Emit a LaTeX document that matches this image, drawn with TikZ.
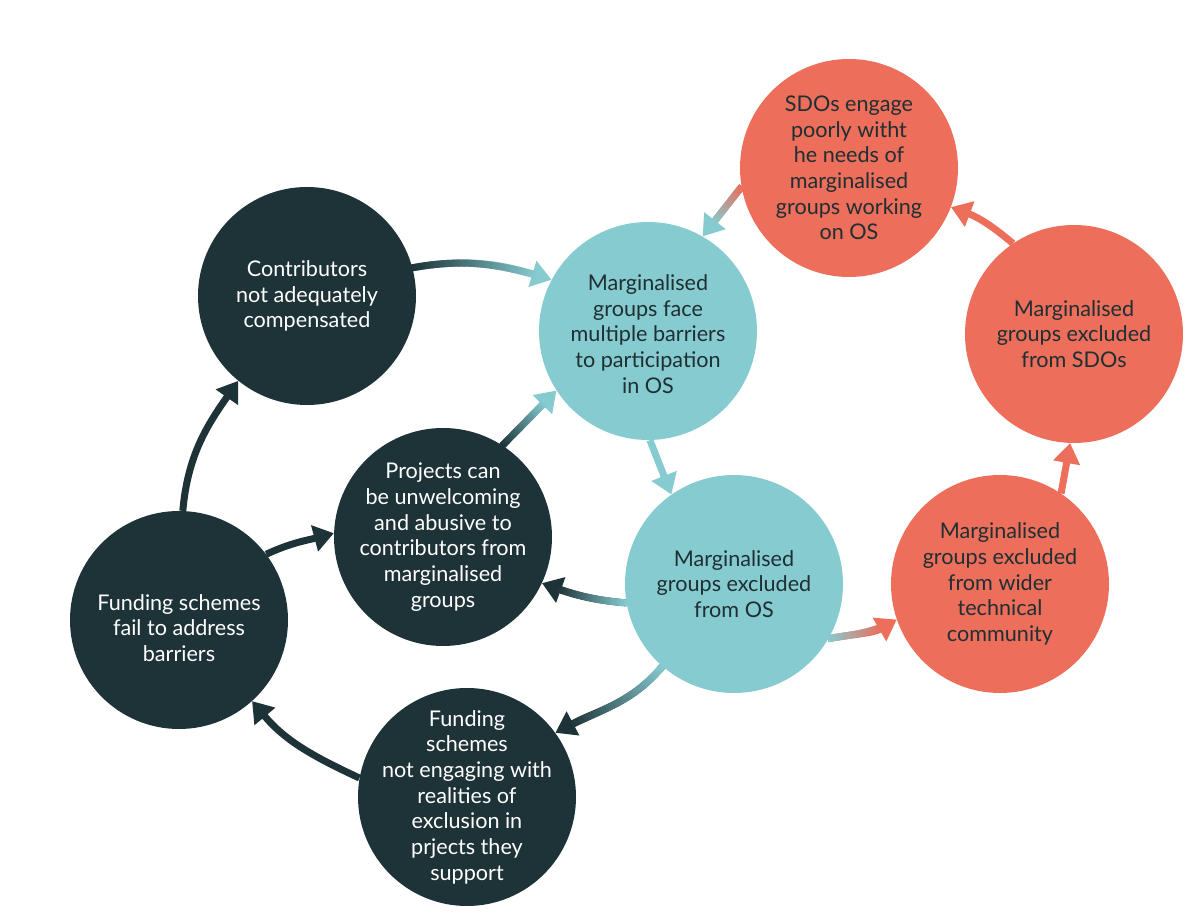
\documentclass[tikz,border=0pt]{standalone}
\usepackage{fontspec}
\setmainfont{Lato}
\usetikzlibrary{arrows.meta,decorations.markings,backgrounds}
\definecolor{dkc}{HTML}{1E3338}
\definecolor{tlc}{HTML}{86CBD0}
\definecolor{crc}{HTML}{EC6E5B}
\definecolor{txd}{HTML}{1F2F33}
\tikzset{
  bubble/.style={circle, minimum size=218pt, inner sep=0pt},
  darkb/.style={bubble, fill=dkc},
  tealb/.style={bubble, fill=tlc},
  coralb/.style={bubble, fill=crc},
  lbl/.style={align=center, font=\fontsize{21.6}{25.7}\selectfont, inner sep=0pt},
  lightlbl/.style={lbl, text=white},
  darklbl/.style={lbl, text=txd},
  arr/.style={line width=7pt, -{Triangle[length=20pt,width=26pt]}},
  gradline/.style 2 args={
    postaction={decorate, decoration={markings,
      mark=between positions 0 and -17pt step 1.2pt with {%
        \pgfmathtruncatemacro\gp{min(100,max(0,100*(\pgfkeysvalueof{/pgf/decoration/mark info/distance from start})/(\pgfdecoratedpathlength-17pt)))}%
        \fill[#2!\gp!#1, arrows=-] (-0.9pt,-3.5pt) rectangle (0.9pt,3.5pt);
      }}}
  },
}
\begin{document}
\begin{tikzpicture}[x=1pt,y=1pt]
\useasboundingbox (0,0) rectangle (1200,921);
% bubbles
\node[darkb]  (C1) at (307,625) {};
\node[tealb]  (T1) at (648,590) {};
\node[coralb] (R1) at (849,753) {};
\node[coralb] (R2) at (1074,587) {};
\node[darkb]  (D2) at (443,384) {};
\node[tealb]  (T2) at (734,337) {};
\node[coralb] (R3) at (1000,337) {};
\node[darkb]  (D3) at (179,301) {};
\node[darkb]  (D4) at (467,124) {};
% texts
\node[lightlbl] (C1t) at (C1) {Contributors\\not adequately\\compensated};
\node[darklbl] (T1t) at (648,587) {Marginalised\\groups face\\multiple barriers\\to participation\\in OS};
\node[darklbl] (R1t) at (R1) {SDOs engage\\poorly witht\\he needs of\\marginalised\\groups working\\on OS};
\node[darklbl] (R2t) at (R2) {Marginalised\\groups excluded\\from SDOs};
\node[lightlbl] (D2t) at (D2) {Projects can\\be unwelcoming\\and abusive to\\contributors from\\marginalised\\groups};
\node[darklbl] (T2t) at (T2) {Marginalised\\groups excluded\\from OS};
\node[darklbl] (R3t) at (R3) {Marginalised\\groups excluded\\from wider\\technical\\community};
\node[lightlbl] (D3t) at (179,293) {Funding schemes\\fail to address\\barriers};
\node[lightlbl] (D4t) at (D4) {Funding\\schemes\\not engaging with\\realities of\\exclusion in\\prjects they\\support};
% connectors
\begin{scope}[on background layer]
\fill[white] (0,0) rectangle (1200,921);
\draw[arr, tlc, gradline={dkc}{tlc}] (C1.15) to[out=10,in=163] (T1.152);
\draw[arr, tlc, gradline={crc}{tlc}] (R1.190) -- (T1.60);
\draw[arr, tlc] (T1.271) -- (T2.125);
\draw[arr, crc] (R2.124) to[bend right=10] (R1.-21);
\draw[arr, crc] (R3.56) -- (R2.268);
\draw[arr, crc, gradline={tlc}{crc}] (T2.-30) to[out=10,in=210] (R3.199);
\draw[arr, dkc, gradline={tlc}{dkc}] (T2.190) to[out=175,in=-20] (D2.-25);
\draw[arr, dkc, gradline={tlc}{dkc}] (T2.229) to[out=230,in=28] (D4.36);
\draw[arr, tlc, gradline={dkc}{tlc}] (D2.57) -- (T1.213);
\draw[arr, dkc] (D3.88) to[out=85,in=235] (C1.231);
\draw[arr, dkc] (D3.37) to[out=25,in=195] (D2.178);
\draw[arr, dkc] (D4.170) to[out=155,in=-50] (D3.-48);
\end{scope}
\end{tikzpicture}
\end{document}
